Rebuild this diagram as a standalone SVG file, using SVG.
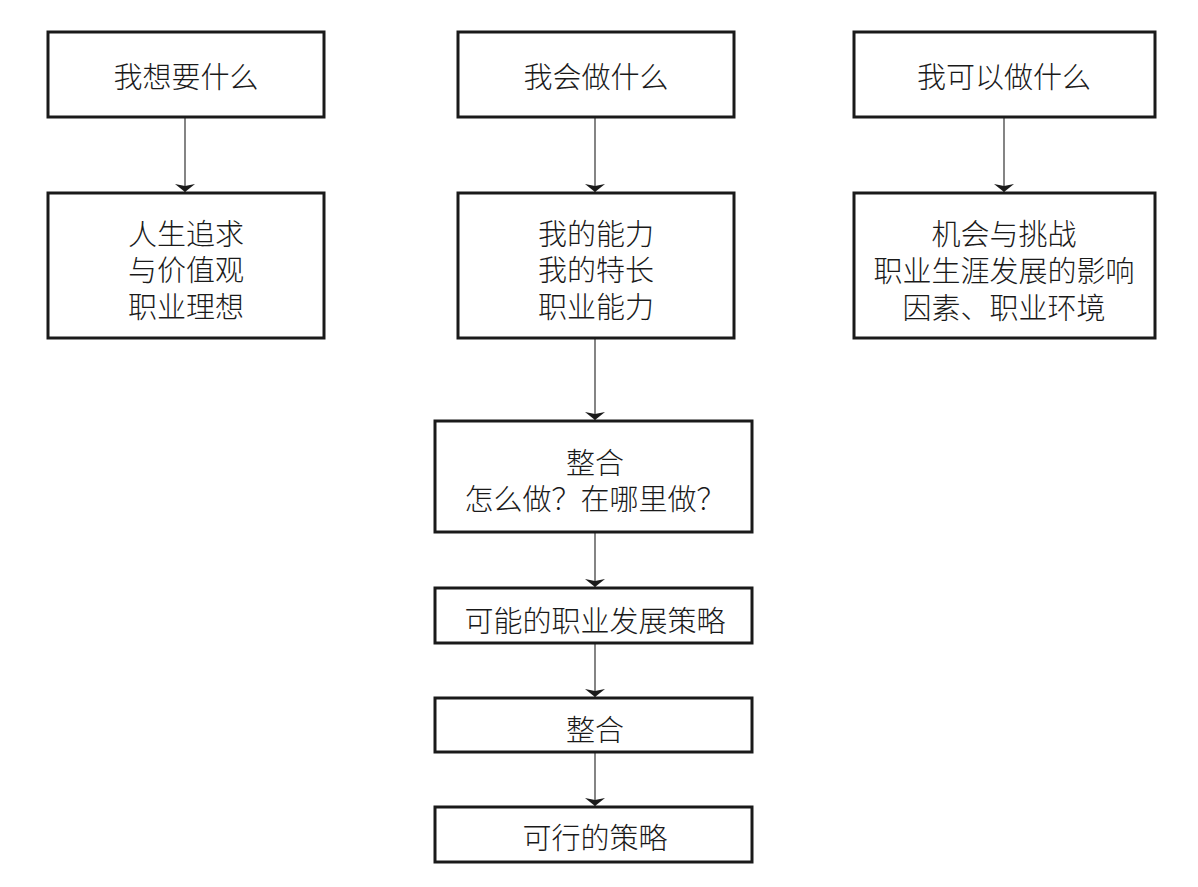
<svg xmlns="http://www.w3.org/2000/svg" width="1198" height="887" viewBox="0 0 1198 887">
<style>
.box{fill:#fff;stroke:#1a1a1a;stroke-width:3}
.t{font-family:"Noto Sans CJK SC","Noto Sans CJK JP",sans-serif;font-size:29px;fill:#1a1a1a;text-anchor:middle;dominant-baseline:central;font-weight:300}
.c{stroke:#333;stroke-width:1.2;fill:none}
</style>
<defs>
<marker id="ah" viewBox="0 0 8 20" refX="8" refY="10" markerWidth="8" markerHeight="20" markerUnits="userSpaceOnUse" orient="auto-start-reverse">
<path d="M0,0 L8,10 L0,20 L2,10 Z" fill="#1a1a1a"/>
</marker>
</defs>
<rect width="1198" height="887" fill="#fff"/>
<g id="connectors">
<line class="c" x1="185" y1="118" x2="185" y2="192" marker-end="url(#ah)"/>
<line class="c" x1="595" y1="118" x2="595" y2="192" marker-end="url(#ah)"/>
<line class="c" x1="1004" y1="118" x2="1004" y2="192" marker-end="url(#ah)"/>
<line class="c" x1="595" y1="339" x2="595" y2="420" marker-end="url(#ah)"/>
<line class="c" x1="595" y1="533" x2="595" y2="587" marker-end="url(#ah)"/>
<line class="c" x1="595" y1="644" x2="595" y2="697" marker-end="url(#ah)"/>
<line class="c" x1="595" y1="753" x2="595" y2="806" marker-end="url(#ah)"/>
</g>
<g id="n1"><rect class="box" x="48" y="32" width="276" height="85"/><text class="t" x="186" y="75">我想要什么</text></g>
<g id="n2"><rect class="box" x="458" y="32" width="276" height="85"/><text class="t" x="596" y="75">我会做什么</text></g>
<g id="n3"><rect class="box" x="854" y="32" width="301" height="85"/><text class="t" x="1004" y="75">我可以做什么</text></g>
<g id="n4"><rect class="box" x="48" y="193" width="276" height="145"/>
<text class="t" x="186" y="232">人生追求</text><text class="t" x="186" y="268">与价值观</text><text class="t" x="186" y="305">职业理想</text></g>
<g id="n5"><rect class="box" x="458" y="193" width="276" height="145"/>
<text class="t" x="596" y="232">我的能力</text><text class="t" x="596" y="268">我的特长</text><text class="t" x="596" y="305">职业能力</text></g>
<g id="n6"><rect class="box" x="854" y="193" width="301" height="145"/>
<text class="t" x="1004" y="232">机会与挑战</text><text class="t" x="1004" y="269">职业生涯发展的影响</text><text class="t" x="1004" y="306">因素、职业环境</text></g>
<g id="n7"><rect class="box" x="435" y="421" width="317" height="111"/>
<text class="t" x="595" y="461">整合</text><text class="t" x="595" y="497">怎么做？在哪里做？</text></g>
<g id="n8"><rect class="box" x="435" y="588" width="317" height="55"/><text class="t" x="595" y="619">可能的职业发展策略</text></g>
<g id="n9"><rect class="box" x="435" y="698" width="317" height="54"/><text class="t" x="595" y="728">整合</text></g>
<g id="n10"><rect class="box" x="435" y="807" width="317" height="55"/><text class="t" x="595" y="836">可行的策略</text></g>
</svg>
